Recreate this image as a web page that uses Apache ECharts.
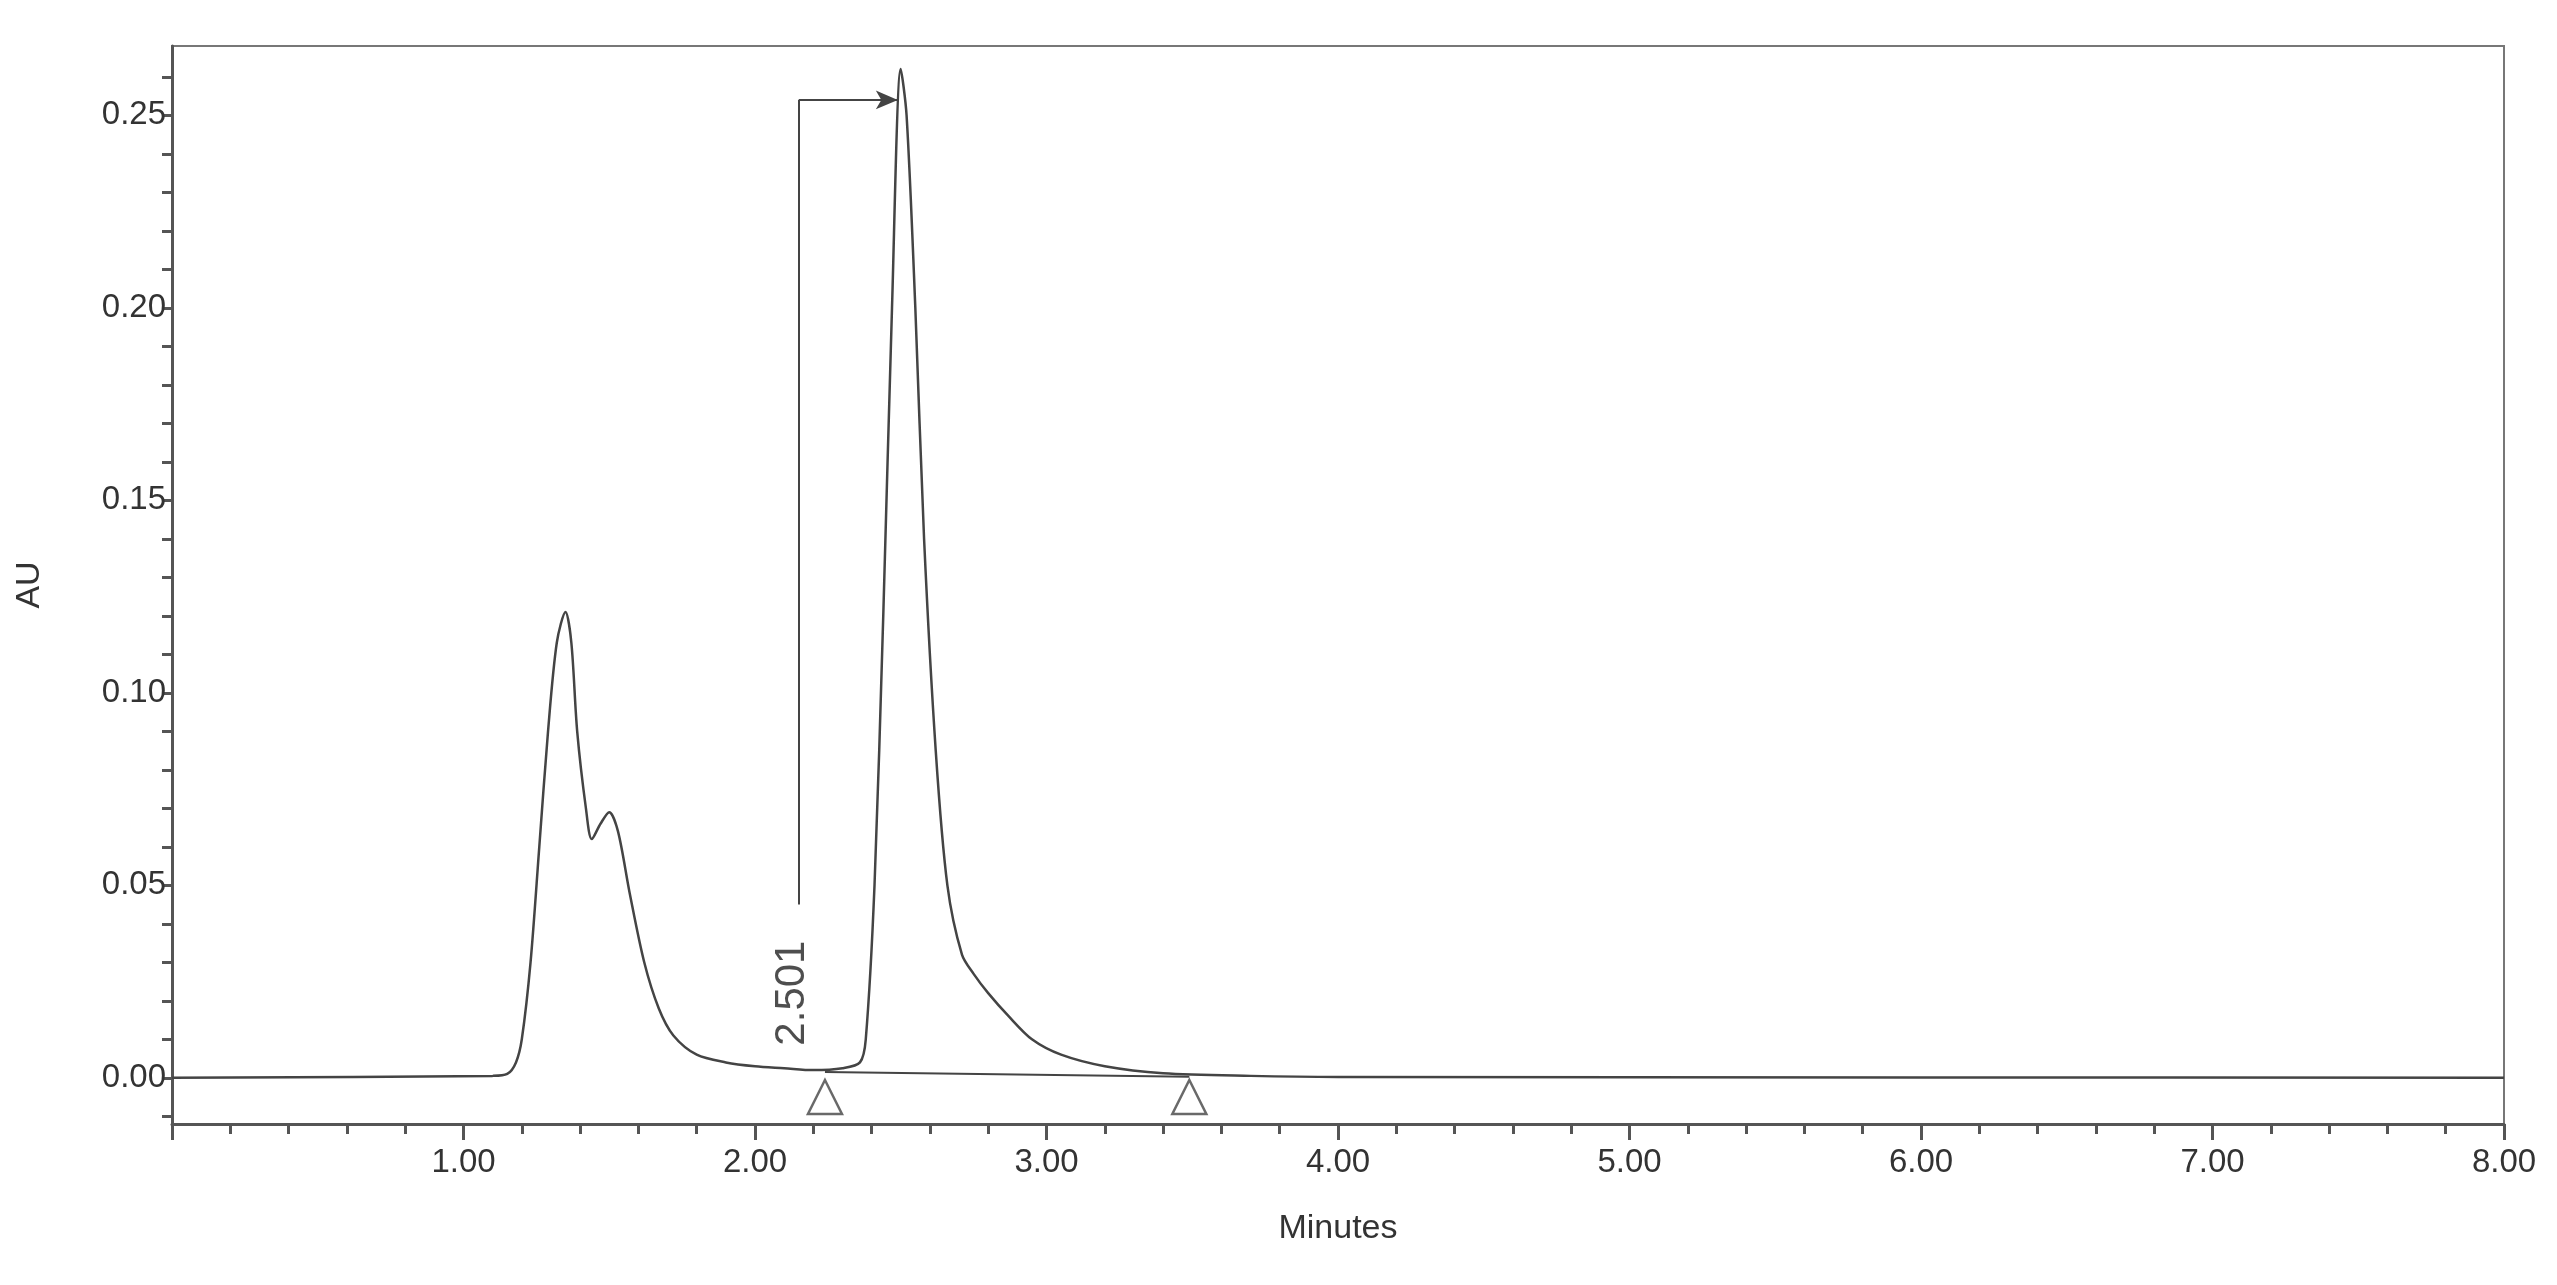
<!DOCTYPE html>
<html>
<head>
<meta charset="utf-8">
<script src="https://cdn.jsdelivr.net/npm/echarts@6/dist/echarts.min.js"></script>
<style>
	html, body { margin: 0; padding: 0; background: #fff; }
	#chart { width: 2557px; height: 1285px; }
</style>
</head>
<body>
<div id="chart"></div>
<script>
// Chromatogram trace (minutes, AU)
const times = [0, 1.10, 1.15, 1.18, 1.20, 1.23, 1.26, 1.29, 1.32, 1.35, 1.37, 1.39, 1.42, 1.44, 1.47, 1.50, 1.53, 1.57, 1.62, 1.67, 1.72, 1.80, 1.90, 2.00, 2.10, 2.20, 2.30, 2.36, 2.38, 2.41, 2.44, 2.47, 2.50, 2.52, 2.55, 2.58, 2.62, 2.66, 2.71, 2.75, 2.80, 2.87, 2.95, 3.05, 3.20, 3.40, 3.70, 4.00, 6.00, 8.00];
const absorbance = [0, 0.0005, 0.001, 0.004, 0.010, 0.030, 0.060, 0.090, 0.113, 0.121, 0.113, 0.090, 0.070, 0.062, 0.066, 0.069, 0.064, 0.048, 0.030, 0.018, 0.011, 0.006, 0.004, 0.003, 0.0025, 0.002, 0.0025, 0.004, 0.010, 0.050, 0.120, 0.200, 0.262, 0.250, 0.200, 0.140, 0.085, 0.050, 0.032, 0.027, 0.022, 0.016, 0.010, 0.006, 0.003, 0.0012, 0.0005, 0.0002, 0.0001, 0];

// integration marks and peak label
const peakLabel = "2.501";
const markerTimes = [2.24, 3.49];
const yLabelValues = [0, 0.05, 0.10, 0.15, 0.20, 0.25];
const yTickValues = [-0.01, 0, 0.01, 0.02, 0.03, 0.04, 0.05, 0.06, 0.07, 0.08, 0.09, 0.10, 0.11, 0.12, 0.13, 0.14, 0.15, 0.16, 0.17, 0.18, 0.19, 0.20, 0.21, 0.22, 0.23, 0.24, 0.25, 0.26];

const axisColor = "#555";
const textColor = "#333";
const font = "Liberation Sans";

const chart = echarts.init(document.getElementById("chart"));
chart.setOption({
	animation: false,
	grid: {
		left: 172, right: 53, top: 46, bottom: 161,
		show: true, borderColor: "#777", borderWidth: 2
	},
	xAxis: {
		type: "value",
		min: 0, max: 8, interval: 1,
		name: "Minutes",
		nameLocation: "middle",
		nameGap: 88,
		nameTextStyle: { fontFamily: font, fontSize: 34, color: textColor },
		axisLine: { show: true, onZero: false, lineStyle: { color: axisColor, width: 3 } },
		axisTick: { show: true, length: 16, lineStyle: { color: axisColor, width: 3 } },
		minorTick: { show: true, splitNumber: 5, length: 10, lineStyle: { color: axisColor, width: 3 } },
		splitLine: { show: false },
		axisLabel: {
			showMinLabel: false,
			margin: 22,
			fontFamily: font, fontSize: 33, color: textColor,
			formatter: (v) => v.toFixed(2)
		}
	},
	yAxis: {
		type: "value",
		min: -0.012, max: 0.268,
		name: "AU",
		nameLocation: "middle",
		nameGap: 125,
		nameTextStyle: { fontFamily: font, fontSize: 34, color: textColor },
		axisLine: { show: true, lineStyle: { color: axisColor, width: 3 } },
		axisTick: { show: true, length: 10, customValues: yTickValues, lineStyle: { color: axisColor, width: 3 } },
		splitLine: { show: false },
		axisLabel: {
			customValues: yLabelValues,
			margin: 6,
			fontFamily: font, fontSize: 33, color: textColor,
			formatter: (v) => v.toFixed(2)
		}
	},
	series: [
		{
			type: "line",
			data: times.map((t, i) => [t, absorbance[i]]),
			smooth: 0.3,
			symbol: "none",
			lineStyle: { color: "#444", width: 2.5 },
			markLine: {
				silent: true,
				symbol: "none",
				lineStyle: { type: "solid", color: "#444", width: 2 },
				label: { show: false },
				data: [
					[{ coord: [2.15, 0.045] }, { coord: [2.15, 0.254] }],
					[{ coord: [2.15, 0.254] }, { coord: [2.49, 0.254], symbol: "arrow", symbolSize: [14, 22] }],
					[{ coord: [markerTimes[0], 0.0015] }, { coord: [markerTimes[1], 0.0003] }]
				]
			}
		},
		{
			type: "scatter",
			data: markerTimes.map((t) => [t, -0.005]),
			symbol: "triangle",
			symbolSize: [34, 34],
			itemStyle: { color: "#fff", borderColor: "#444", borderWidth: 2.5 },
			z: 5
		},
		{
			type: "scatter",
			data: [[2.13, 0.022]],
			symbolSize: 0,
			label: {
				show: true,
				formatter: peakLabel,
				rotate: 90,
				fontFamily: font,
				fontSize: 42,
				color: "#222"
			}
		}
	]
});
</script>
</body>
</html>
